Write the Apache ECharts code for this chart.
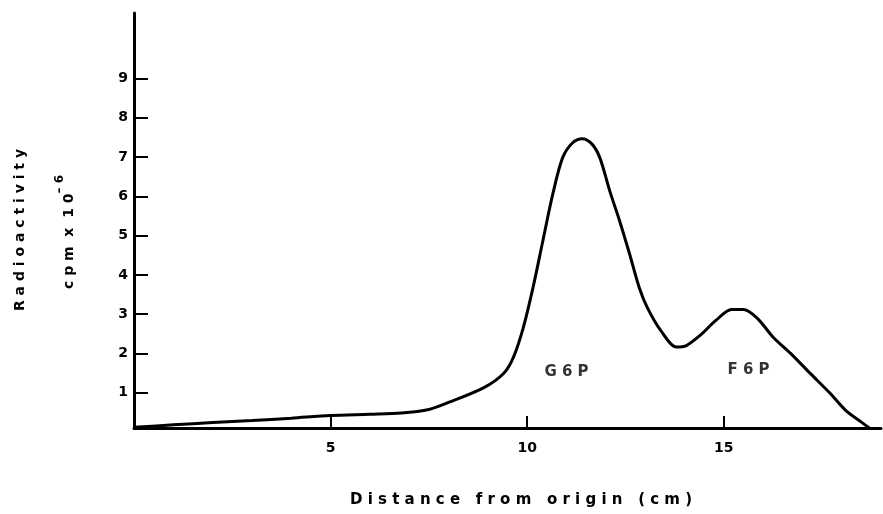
<!DOCTYPE html>
<html>
<head>
<meta charset="utf-8">
<script src="https://cdn.jsdelivr.net/npm/echarts@6/dist/echarts.min.js"></script>
<style>
html,body{margin:0;padding:0;background:#fff;}
#chart{width:883px;height:514px;}
</style>
</head>
<body>
<div id="chart"></div>
<script>
// Distance from origin (cm)
const distance = [0, 1, 2, 3, 4, 5, 6, 6.8, 7.5, 8.0, 8.9, 9.4, 9.65, 9.9, 10.15, 10.4, 10.65, 10.9, 11.15, 11.4, 11.65, 11.85, 12.1, 12.35, 12.6, 12.85, 13.05, 13.4, 13.8, 14.05, 14.4, 14.8, 15.2, 15.5, 15.85, 16.25, 16.7, 17.2, 17.7, 18.1, 18.5, 18.7];
// Radioactivity, cpm x 10^-6
const activity = [0.12, 0.18, 0.24, 0.29, 0.35, 0.42, 0.45, 0.48, 0.57, 0.75, 1.13, 1.49, 1.9, 2.65, 3.68, 4.87, 6.05, 6.98, 7.36, 7.47, 7.33, 6.98, 6.14, 5.38, 4.55, 3.68, 3.18, 2.58, 2.16, 2.2, 2.46, 2.84, 3.12, 3.12, 2.9, 2.42, 2.0, 1.49, 0.99, 0.55, 0.25, 0.1];
const yTicks = [1, 2, 3, 4, 5, 6, 7, 8, 9];
const xTicks = [5, 10, 15];
const peakNames = ['G 6 P', 'F 6 P'];
const peakX = [11.0, 15.63];
const peakY = [1.53, 1.58];

const FONT = 'DejaVu Sans';
const chart = echarts.init(document.getElementById('chart'));
chart.setOption({
  backgroundColor: '#fff',
  animation: false,
  grid: { left: 134, right: 2, top: 13, bottom: 86 },
  xAxis: {
    type: 'value', min: 0, max: 19,
    axisLine: { show: true, onZero: false, lineStyle: { color: '#000', width: 3 } },
    axisTick: { show: true, inside: true, length: 12, customValues: xTicks, lineStyle: { color: '#000', width: 2 } },
    axisLabel: { customValues: xTicks, margin: 13, color: '#000', fontSize: 14, fontWeight: 'bold', fontFamily: FONT },
    splitLine: { show: false }
  },
  yAxis: {
    type: 'value', min: 0.1, max: 10.67,
    axisLine: { show: true, lineStyle: { color: '#000', width: 3 } },
    axisTick: { show: true, inside: true, length: 14, customValues: yTicks, lineStyle: { color: '#000', width: 2 } },
    axisLabel: { customValues: yTicks, margin: 6, color: '#000', fontSize: 14, fontWeight: 'bold', fontFamily: FONT },
    splitLine: { show: false }
  },
  graphic: [
    { type: 'text', x: 20, y: 230, rotation: Math.PI / 2,
      style: { text: 'R a d i o a c t i v i t y', fill: '#000', fontSize: 14, fontWeight: 'bold', fontFamily: FONT, textAlign: 'center', textVerticalAlign: 'middle' } },
    { type: 'text', x: 64, y: 232, rotation: Math.PI / 2,
      style: { text: '{m|c p m  x  1 0}{s|\u2013 6}', fill: '#000', fontFamily: FONT, textAlign: 'center', textVerticalAlign: 'middle',
        rich: { m: { fontSize: 14, fontWeight: 'bold', fontFamily: FONT, fill: '#000', padding: [10, 0, 0, 0] },
                s: { fontSize: 12, fontWeight: 'bold', fontFamily: FONT, fill: '#000', padding: [0, 0, 8, 0] } } } },
    { type: 'text', x: 521, y: 500,
      style: { text: 'D i s t a n c e   f r o m   o r i g i n   ( c m )', fill: '#000', fontSize: 15, fontWeight: 'bold', fontFamily: FONT, textAlign: 'center', textVerticalAlign: 'middle' } }
  ],
  series: [
    {
      type: 'line',
      data: distance.map((d, i) => [d, activity[i]]),
      smooth: 0.3,
      showSymbol: false,
      lineStyle: { color: '#000', width: 3 },
      z: 3
    },
    {
      type: 'scatter',
      symbolSize: 0,
      data: peakNames.map((n, i) => ({ name: n, value: [peakX[i], peakY[i]] })),
      label: { show: true, position: 'inside', formatter: '{b}', color: '#000', fontSize: 15, fontWeight: 'bold', fontFamily: FONT },
      silent: true
    }
  ]
});
</script>
</body>
</html>
